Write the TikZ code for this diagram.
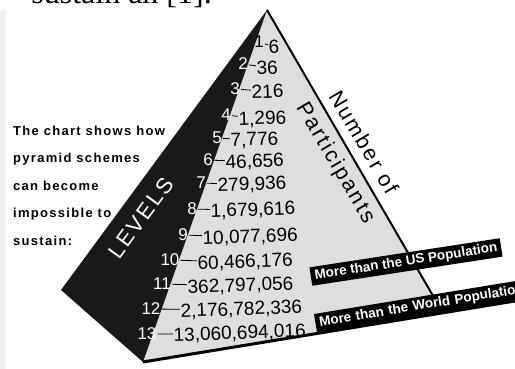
\documentclass[tikz,border=0pt]{standalone}
\usepackage{fontspec}
\setmainfont{Liberation Sans}
\newfontfamily\spacedfont[LetterSpace=10]{Liberation Sans}
\newfontfamily\captionfont{Liberation Serif}

\begin{document}
\begin{tikzpicture}[
 x=1pt, y=-1pt,
 level/.style={font=\fontsize{17}{17}\selectfont, text=white, inner sep=1pt},
 num/.style={font=\fontsize{19}{19}\selectfont, anchor=west, inner sep=0.5pt, rotate=2},
 tick/.style={line width=0.8pt},
 banner/.style={fill=black, text=white, font=\bfseries\fontsize{13.5}{13.5}\selectfont, inner ysep=3pt, inner xsep=4pt},
 edge/.style={line width=2pt, line join=round},
 facelabel/.style={font=\spacedfont\fontsize{21.5}{21.5}\selectfont, rotate=-59.6, inner sep=0pt}
]
\useasboundingbox (0,0) rectangle (515,369);
\clip (0,0) rectangle (515,369);

% page edge and cut-off caption
\fill[black!5] (0,10) rectangle (6,369);
\node[anchor=base east, font=\captionfont\fontsize{32}{32}\selectfont, inner sep=0pt] (caption) at (212,3.5) {sustain an [1].};

% pyramid
\coordinate (apex) at (267,10);
\coordinate (backcorner) at (61,290);
\coordinate (frontcorner) at (143,362);
\coordinate (rightcorner) at (443,313);
\coordinate (baseend) at (515,301);

\fill[black!13] (apex) -- (frontcorner) -- (rightcorner) -- cycle;
\fill[black!90] (apex) -- (backcorner) -- (frontcorner) -- cycle;
\draw[edge] (apex) -- (rightcorner);
\draw[line width=3pt] (frontcorner) -- (baseend);

\node[anchor=north west, align=left, inner sep=0pt, font=\spacedfont\bfseries\fontsize{13}{27.5}\selectfont] (intro) at (13,125.5) {The chart shows how\\pyramid schemes\\can become\\impossible to\\sustain:};

\node[font=\spacedfont\fontsize{22}{22}\selectfont, text=white, rotate=54, inner sep=0pt] (levels) at (141,218) {LEVELS};
\node[facelabel] (number) at (364,142) {Number of};
\node[facelabel] (participants) at (335,163) {Participants};

% levels and participants
\node[level, text=black] (l1) at (259,42) {1};
\node[level] (l2) at (243,64) {2};
\node[level] (l3) at (235,89) {3};
\node[level] (l4) at (226,115) {4};
\node[level] (l5) at (217,138) {5};
\node[level] (l6) at (208,160) {6};
\node[level] (l7) at (201,183) {7};
\node[level] (l8) at (192,209) {8};
\node[level] (l9) at (183,235) {9};
\node[level] (l10) at (170,260) {10};
\node[level] (l11) at (162,284) {11};
\node[level] (l12) at (151,309) {12};
\node[level] (l13) at (147,334) {13};

\node[num] (v1) at (268,47) {6};
\node[num] (v2) at (256,68) {36};
\node[num] (v3) at (251,92) {216};
\node[num] (v4) at (238,120) {1,296};
\node[num] (v5) at (230,141) {7,776};
\node[num] (v6) at (225,163) {46,656};
\node[num] (v7) at (217,186) {279,936};
\node[num] (v8) at (210,212) {1,679,616};
\node[num] (v9) at (202,239) {10,077,696};
\node[num] (v10) at (197,264) {60,466,176};
\node[num] (v11) at (187,288) {362,797,056};
\node[num] (v12) at (180,312) {2,176,782,336};
\node[num] (v13) at (173,336) {13,060,694,016};

\draw[tick] (l1) -- (v1);
\draw[tick] (l2) -- (v2);
\draw[tick] (l3) -- (v3);
\draw[tick] (l4) -- (v4);
\draw[tick] (l5) -- (v5);
\draw[tick] (l6) -- (v6);
\draw[tick] (l7) -- (v7);
\draw[tick] (l8) -- (v8);
\draw[tick] (l9) -- (v9);
\draw[tick] (l10) -- (v10);
\draw[tick] (l11) -- (v11);
\draw[tick] (l12) -- (v12);
\draw[tick] (l13) -- (v13);

% population markers
\node[banner, rotate=8.7, minimum width=192pt, minimum height=18.5pt] (us) at (406,262) {More than the US Population};
\node[banner, rotate=9.3, anchor=south west, text width=222pt, align=left, text height=10pt, text depth=3.5pt] (world) at (317,333.5) {More than the World Population};
\end{tikzpicture}
\end{document}
